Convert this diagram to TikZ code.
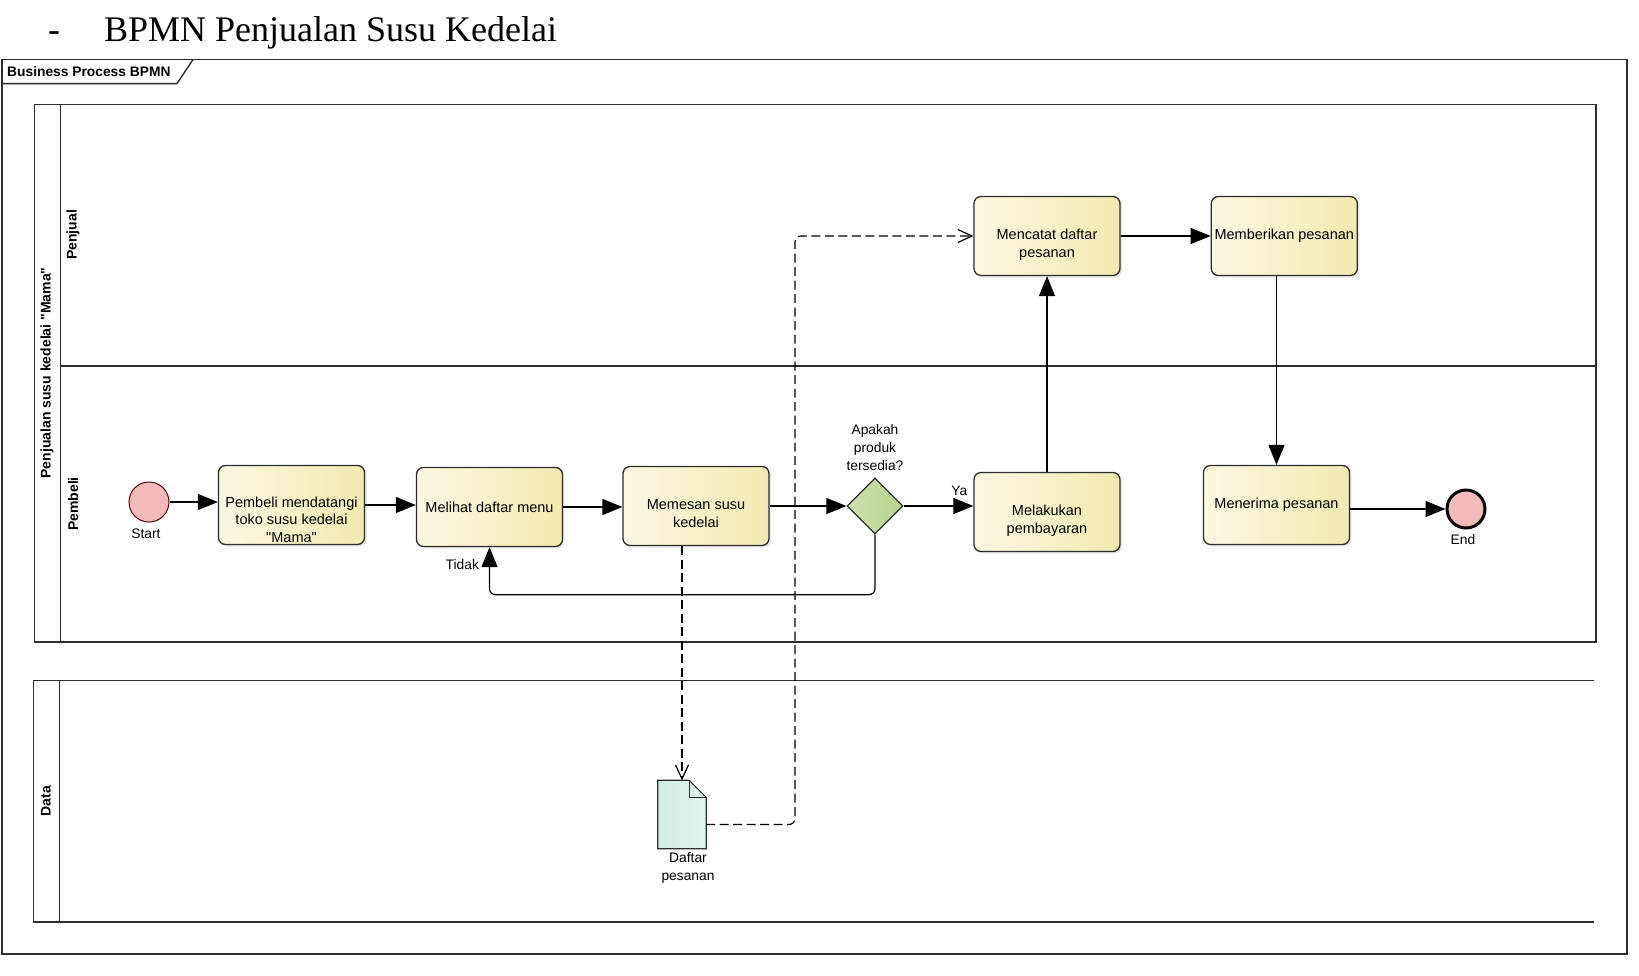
\documentclass[tikz,border=0pt]{standalone}
\usepackage{fontspec}
\setmainfont{Liberation Sans}
\newfontfamily\titlefont{Liberation Serif}
\usepackage{tikz}
\usetikzlibrary{arrows.meta, positioning, shapes.geometric, shadows}

\definecolor{taskleft}{RGB}{251,248,226}
\definecolor{taskright}{RGB}{242,234,176}
\definecolor{eventpink}{RGB}{244,185,185}
\definecolor{gwgreen}{RGB}{184,212,140}
\definecolor{docteal}{RGB}{208,238,226}
\definecolor{lineclr}{RGB}{45,45,45}

\begin{document}
\begin{tikzpicture}[
        x=1pt, y=-1pt,
        task/.style={rectangle, rounded corners=7pt, draw=lineclr, line width=1.3pt, left color=taskleft, right color=taskright, minimum width=146pt, minimum height=79pt, align=center, inner sep=2pt, font=\fontsize{14.5}{17.5}\selectfont, drop shadow={opacity=0.18, shadow xshift=2pt, shadow yshift=-2pt}},
        twolines/.style={text height=42pt, text depth=0pt},
        threelines/.style={text height=74pt, text depth=0pt},
        gateway/.style={diamond, aspect=1, draw=lineclr, line width=1.3pt, left color=gwgreen!70, right color=gwgreen, minimum size=56pt, inner sep=0pt},
        event/.style={circle, draw, fill=eventpink, minimum size=40pt, inner sep=0pt},
        note/.style={font=\fontsize{13.8}{17.8}\selectfont, align=center, inner sep=0pt},
        lane/.style={rotate=90, font=\bfseries\fontsize{14}{16}\selectfont},
        pool/.style={draw=lineclr, line width=1.4pt},
        flow/.style={-{Triangle[length=20pt, width=16pt]}, line width=1.2pt},
        msg/.style={-{Straight Barb[length=14pt, width=13pt]}, line width=1.2pt, draw=black, dash pattern=on 9pt off 4.5pt, rounded corners=6pt}
    ]
        \useasboundingbox (0,0) rectangle (1639,975);
        \node[anchor=base west, inner sep=0pt, font=\titlefont\fontsize{36}{40}\selectfont] (title) at (48,41) {-\hspace{44pt}BPMN Penjualan Susu Kedelai};

        \draw[pool] (2,59.6) rectangle (1627,954);
        \draw[pool] (2,83.6) -- (177,83.6) -- (193,59.6);
        \node[anchor=west, inner sep=0pt, font=\bfseries\fontsize{13.8}{15}\selectfont] (frametitle) at (7,72) {Business Process BPMN};
        \draw[pool] (34.5,104.5) rectangle (1596,642);
        \draw[pool] (60.5,104.5) -- (60.5,642);
        \draw[pool] (60.5,366) -- (1596,366);
        \draw[pool] (1594,680.5) -- (33.5,680.5) -- (33.5,922) -- (1594,922);
        \draw[pool] (59.5,680.5) -- (59.5,922);
        \node[lane] (poollbl) at (47,373) {Penjualan susu kedelai \textquotedbl Mama\textquotedbl};
        \node[lane] (penjual) at (73,235) {Penjual};
        \node[lane] (pembeli) at (73,504) {Pembeli};
        \node[lane] (data) at (46,801) {Data};

        \node[event, draw=red!35!black, line width=1pt] (start) at (149,502) {};
        \node[note, below=6pt of start, xshift=-3pt] (startlbl) {Start};
        \node[task, threelines] (visit) at (291.5,505) {Pembeli mendatangi\\toko susu kedelai\\\textquotedbl Mama\textquotedbl};
        \node[task] (menu) at (489.5,507) {Melihat daftar menu};
        \node[task, twolines] (order) at (696,506) {Memesan susu\\kedelai};
        \node[gateway] (avail) at (875,506) {};
        \node[note, above=7pt of avail] (availlbl) {Apakah\\produk\\tersedia?};
        \node[task, twolines] (pay) at (1047,512) {Melakukan\\pembayaran};
        \node[task, twolines] (record) at (1047,236) {Mencatat daftar\\pesanan};
        \node[task, right=90pt of record] (give) {Memberikan pesanan};
        \node[task] (receive) at (1276.5,505) {Menerima pesanan};
        \node[event, draw=black, line width=3pt, minimum size=38pt] (finish) at (1466,509) {};
        \node[note, below=5pt of finish, xshift=-3pt] (finishlbl) {End};
        \node[minimum width=48pt, minimum height=68pt, inner sep=0pt] (list) at (682,814.5) {};
        \draw[line width=1.2pt, draw=lineclr, left color=docteal, right color=docteal!60] (list.north west) -- ([xshift=-17pt]list.north east) -- ([yshift=-17pt]list.north east) -- (list.south east) -- (list.south west) -- cycle;
        \draw[line width=1.2pt, draw=lineclr] ([xshift=-17pt]list.north east) |- ([yshift=-17pt]list.north east);
        \node[note, below=4pt of list, xshift=6pt] (listlbl) {Daftar\\pesanan};

        \draw[flow] (start) -- (start -| visit.west);
        \draw[flow] (visit.east) -- (visit.east -| menu.west);
        \draw[flow] (menu.east) -- (menu.east -| order.west);
        \draw[flow] (order.east) -- (order.east -| avail.west);
        \draw[flow] (avail) -- node[note, pos=0.8, above=10pt] {Ya} (avail -| pay.west);
        \draw[flow, rounded corners=6pt] (avail.south) -- ++(0,60) -| node[note, pos=0.82, left=10pt] {Tidak} (menu.south);
        \draw[flow] (pay) -- (record);
        \draw[flow] (record) -- (give);
        \draw[flow] (give.south -| receive) -- (receive);
        \draw[flow] (receive.east |- finish) -- (finish);
        \draw[msg] (order.south -| list.north) -- (list.north);
        \coordinate (bend) at (795,236);
        \draw[msg] ([yshift=-10pt]list.east) -| (bend) -- (record.west);
    \end{tikzpicture}
\end{document}
